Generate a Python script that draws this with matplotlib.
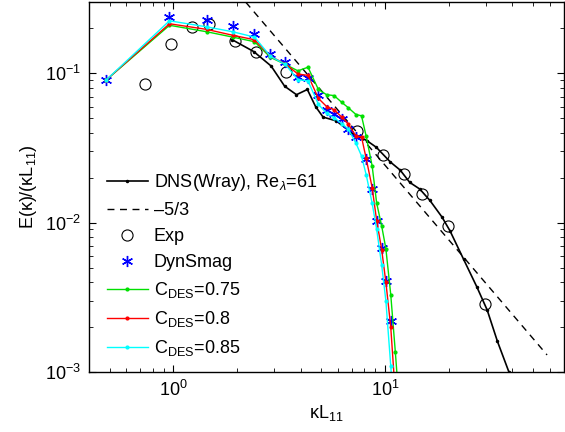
import matplotlib
matplotlib.use("Agg")
import matplotlib.pyplot as plt
from matplotlib.ticker import LogLocator, NullFormatter

plt.rcParams['font.family'] = ['Liberation Sans', 'DejaVu Sans']
plt.rcParams['mathtext.fontset'] = 'custom'
plt.rcParams['mathtext.rm'] = 'Liberation Sans'
plt.rcParams['mathtext.it'] = 'Liberation Sans:italic'
plt.rcParams['font.size'] = 13

# DNS (Wray), Re_lambda = 61
k_dns = [1.9, 2.4, 2.9, 3.36, 3.82, 4.3, 4.7, 5.1, 5.9, 6.95, 8.2, 9.1, 10.6, 11.8,
         13.1, 14.6, 16.3, 18.6, 20.3, 23.5, 27.2, 30.4, 34.0, 38.5, 42.0]
E_dns = [0.168, 0.14, 0.112, 0.082, 0.072, 0.078, 0.060, 0.051, 0.048, 0.040, 0.0355,
         0.032, 0.0255, 0.0225, 0.0186, 0.0168, 0.0141, 0.0109, 0.0088, 0.0057, 0.0037,
         0.0026, 0.0016, 0.001, 0.0007]

# -5/3 reference slope (end points)
k_slope = [2.2, 58.3]
E_slope = [0.30, 0.0013]

# experiment
k_exp = [0.736, 0.98, 1.23, 1.48, 1.96, 2.45, 3.42, 7.4, 9.82, 12.3, 14.9, 19.8, 29.6]
E_exp = [0.0844, 0.157, 0.203, 0.213, 0.166, 0.139, 0.102, 0.0414, 0.0282, 0.0212,
         0.0156, 0.00955, 0.00285]

# dynamic Smagorinsky
k_dyn = [0.48, 0.96, 1.44, 1.91, 2.42, 2.88, 3.38, 3.88, 4.33, 4.85, 5.3, 5.75, 6.25,
         6.7, 7.3, 8.15, 8.7, 9.14, 9.65, 10.1, 10.65]
E_dyn = [0.0898, 0.237, 0.229, 0.207, 0.185, 0.135, 0.119, 0.094, 0.0935, 0.0712, 0.0565,
         0.0537, 0.0497, 0.0426, 0.0374, 0.0267, 0.0168, 0.0103, 0.00676, 0.00408, 0.00218]

# DES runs
k_les = [0.48, 0.96, 1.44, 1.91, 2.42, 2.88, 3.38, 3.88, 4.33, 4.85, 5.3, 5.75, 6.25,
         6.7, 7.3, 7.75, 8.15, 8.7, 9.14, 9.65, 10.1, 10.65, 11.2, 11.8]
E_075 = [0.0898, 0.21, 0.19, 0.175, 0.163, 0.128, 0.115, 0.104, 0.110, 0.078, 0.072,
         0.071, 0.064, 0.059, 0.053, 0.052, 0.038, 0.024, 0.0135, 0.0095, 0.0067, 0.0033,
         0.00135, 0.0005]
E_080 = [0.0898, 0.215, 0.197, 0.18, 0.168, 0.13, 0.116, 0.099, 0.097, 0.068, 0.060,
         0.057, 0.051, 0.046, 0.038, 0.0375, 0.027, 0.0172, 0.0103, 0.0066, 0.0040, 0.0020,
         0.0007, 0.0003]
E_085 = [0.0898, 0.225, 0.205, 0.19, 0.175, 0.13, 0.115, 0.091, 0.089, 0.062, 0.054,
         0.0505, 0.046, 0.0425, 0.034, 0.028, 0.021, 0.0135, 0.009, 0.0052, 0.0030, 0.0011,
         0.0004, 0.0002]

fig = plt.figure(figsize=(5.65, 4.32), dpi=100)
ax = fig.add_axes([0.1575, 0.139, 0.8405, 0.856])

ax.loglog(k_dns, E_dns, '-', color='black', lw=1.2, marker='.', ms=3,
          label='DNS(Wray), Re$_\\lambda$=61')
ax.loglog(k_slope, E_slope, '--', color='black', lw=1, dashes=(5, 4), label='\u20135/3')
ax.loglog(k_exp, E_exp, 'o', mfc='none', mec='black', ms=8, mew=0.8, label='Exp')
ax.loglog(k_dyn, E_dyn, ls='none', marker=(6, 2, 0), color='blue', ms=8, mew=1,
          label='DynSmag')
ax.loglog(k_les, E_075, '-', color='#00e000', lw=1, marker='.', ms=4,
          label='C$_{\\mathrm{DES}}$=0.75')
ax.loglog(k_les, E_080, '-', color='red', lw=1, marker='.', ms=4,
          label='C$_{\\mathrm{DES}}$=0.8')
ax.loglog(k_les, E_085, '-', color='cyan', lw=1, marker='.', ms=4,
          label='C$_{\\mathrm{DES}}$=0.85')

ax.set_xlim(0.4, 70)
ax.set_ylim(1e-3, 0.3)
ax.xaxis.set_minor_locator(LogLocator(base=10, subs=range(2, 10)))
ax.yaxis.set_minor_locator(LogLocator(base=10, subs=range(2, 10)))
ax.xaxis.set_minor_formatter(NullFormatter())
ax.yaxis.set_minor_formatter(NullFormatter())
ax.tick_params(which='both', direction='in', top=True, right=True, labelsize=13)
ax.tick_params(which='major', length=5, pad=6)
ax.tick_params(which='minor', length=3)
for s in ax.spines.values():
    s.set_linewidth(1)

ax.set_xlabel('\u03baL$_{11}$', fontsize=13, labelpad=2)
ax.set_ylabel('E(\u03ba)/(\u03baL$_{11}$)', fontsize=13, labelpad=4)

ax.legend(loc='lower left', bbox_to_anchor=(0.018, 0.012), frameon=False,
          handlelength=2.3, handletextpad=0.3, labelspacing=0.5, borderpad=0,
          fontsize=13)

fig.savefig('out.png', dpi=100)
